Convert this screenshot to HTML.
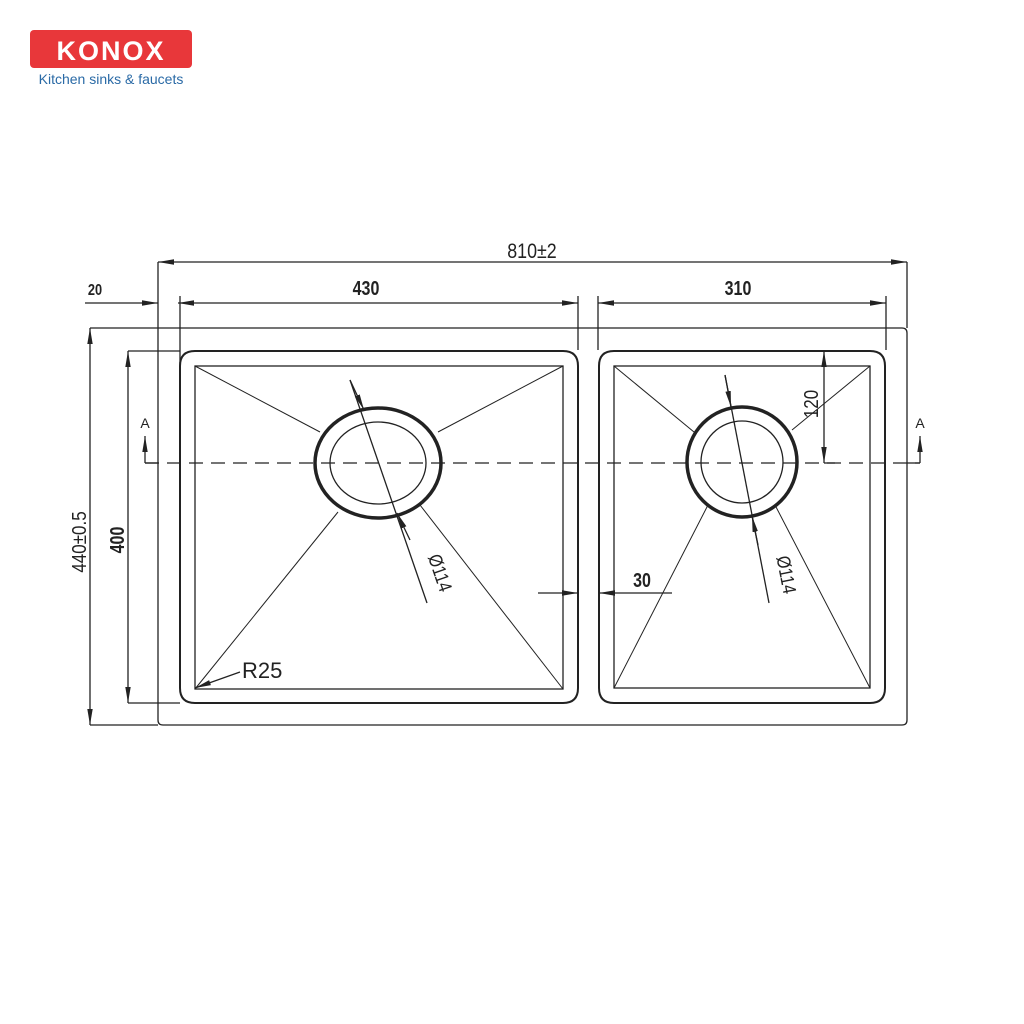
<!DOCTYPE html>
<html><head><meta charset="utf-8"><style>
html,body{margin:0;padding:0;background:#fff;width:1024px;height:1024px;overflow:hidden}
</style></head><body>
<svg width="1024" height="1024" viewBox="0 0 1024 1024" xmlns="http://www.w3.org/2000/svg">
<defs>
<marker id="ar" viewBox="0 0 10 10" refX="10" refY="5" markerWidth="16" markerHeight="6" markerUnits="userSpaceOnUse" preserveAspectRatio="none" orient="auto-start-reverse"><path d="M0,0.5 L10,5 L0,9.5 Z" fill="#222"/></marker>
</defs>
<!-- logo -->
<rect x="30" y="30" width="162" height="38" rx="4" fill="#e8373a"/>
<text x="111" y="60" font-family="Liberation Sans, sans-serif" font-size="27" font-weight="bold" fill="#fff" text-anchor="middle" letter-spacing="2">KONOX</text>
<text x="111" y="84" font-family="Liberation Sans, sans-serif" font-size="14" fill="#2a6aa6" text-anchor="middle">Kitchen sinks &amp; faucets</text>

<g fill="none" stroke="#222" stroke-width="1.3">
<!-- frame -->
<path d="M158 262 V720 Q158 725 163 725 H902 Q907 725 907 720 V333 Q907 328 902 328 H90"/>
<line x1="907" y1="262" x2="907" y2="328"/>
<!-- 810 -->
<line x1="158" y1="262" x2="907" y2="262" marker-start="url(#ar)" marker-end="url(#ar)"/>
<!-- 20 -->
<line x1="85" y1="303" x2="158" y2="303" marker-end="url(#ar)"/>
<line x1="178" y1="303" x2="578" y2="303" marker-start="url(#ar)" marker-end="url(#ar)"/>
<line x1="598" y1="303" x2="886" y2="303" marker-start="url(#ar)" marker-end="url(#ar)"/>
<line x1="180" y1="296" x2="180" y2="365"/>
<line x1="578" y1="296" x2="578" y2="350"/>
<line x1="598" y1="296" x2="598" y2="350"/>
<line x1="886" y1="296" x2="886" y2="350"/>
<!-- vertical dims -->
<line x1="90" y1="328" x2="90" y2="725" marker-start="url(#ar)" marker-end="url(#ar)"/>
<line x1="90" y1="725" x2="158" y2="725"/>
<line x1="128" y1="351" x2="128" y2="703" marker-start="url(#ar)" marker-end="url(#ar)"/>
<line x1="128" y1="351" x2="180" y2="351"/>
<line x1="128" y1="703" x2="180" y2="703"/>
<!-- left basin -->
<path d="M195 351 H563 Q578 351 578 366 V688 Q578 703 563 703 H195 Q180 703 180 688 V366 Q180 351 195 351 Z" stroke-width="2"/>
<rect x="195" y="366" width="368" height="323"/>
<!-- right basin -->
<path d="M614 351 H870 Q885 351 885 366 V688 Q885 703 870 703 H614 Q599 703 599 688 V366 Q599 351 614 351 Z" stroke-width="2"/>
<rect x="614" y="366" width="256" height="322"/>
<!-- diagonals -->
<g stroke-width="1">
<line x1="195" y1="366" x2="320" y2="432"/><line x1="563" y1="366" x2="438" y2="432"/>
<line x1="195" y1="689" x2="338" y2="512"/><line x1="563" y1="689" x2="420" y2="505"/>
<line x1="614" y1="366" x2="694" y2="432"/><line x1="870" y1="366" x2="792" y2="430"/>
<line x1="614" y1="688" x2="708" y2="505"/><line x1="870" y1="688" x2="775" y2="505"/>
</g>
<!-- drains -->
<ellipse cx="378" cy="463" rx="63" ry="55" stroke-width="3.5"/>
<ellipse cx="378" cy="463" rx="48" ry="41"/>
<circle cx="742" cy="462" r="55" stroke-width="3.5"/>
<circle cx="742" cy="462" r="41"/>
<!-- section line -->
<line x1="145" y1="463" x2="920" y2="463" stroke-dasharray="14,8"/>
<path d="M145 463 H158"/><path d="M907 463 H920"/>
<line x1="145" y1="463" x2="145" y2="436" marker-end="url(#ar)"/>
<line x1="920" y1="463" x2="920" y2="436" marker-end="url(#ar)"/>
<!-- phi leaders -->
<line x1="350" y1="380" x2="427" y2="603"/>
<line x1="350" y1="380" x2="364" y2="410" marker-end="url(#ar)"/>
<line x1="410" y1="540" x2="397" y2="513" marker-end="url(#ar)"/>
<line x1="725" y1="375" x2="769" y2="603"/>
<line x1="725" y1="375" x2="731" y2="407" marker-end="url(#ar)"/>
<line x1="758" y1="545" x2="752" y2="516" marker-end="url(#ar)"/>
<!-- 120 -->
<line x1="824" y1="351" x2="824" y2="463" marker-start="url(#ar)" marker-end="url(#ar)"/>
<line x1="824" y1="463" x2="835" y2="463"/>
<!-- 30 -->
<line x1="538" y1="593" x2="578" y2="593" marker-end="url(#ar)"/>
<line x1="672" y1="593" x2="599" y2="593" marker-end="url(#ar)"/>
<!-- R25 -->
<line x1="240" y1="672" x2="195" y2="688" marker-end="url(#ar)"/>
</g>

<g font-family="Liberation Sans, sans-serif" fill="#222">
<text x="532" y="258" font-size="21" text-anchor="middle" transform="translate(532 0) scale(0.85 1) translate(-532 0)">810±2</text>
<text x="366" y="295" font-size="20" font-weight="bold" text-anchor="middle" transform="translate(366 0) scale(0.8 1) translate(-366 0)">430</text>
<text x="738" y="295" font-size="20" font-weight="bold" text-anchor="middle" transform="translate(738 0) scale(0.8 1) translate(-738 0)">310</text>
<text x="95" y="295" font-size="16" font-weight="bold" text-anchor="middle" transform="translate(95 0) scale(0.8 1) translate(-95 0)">20</text>
<text x="642" y="587" font-size="20" font-weight="bold" text-anchor="middle" transform="translate(642 0) scale(0.8 1) translate(-642 0)">30</text>
<text font-size="20" text-anchor="middle" transform="translate(86 542) rotate(-90) scale(0.85 1)">440±0.5</text>
<text font-size="20" font-weight="bold" text-anchor="middle" transform="translate(124 540) rotate(-90) scale(0.8 1)">400</text>
<text font-size="20" text-anchor="middle" transform="translate(818 404) rotate(-90) scale(0.85 1)">120</text>
<text font-size="19" text-anchor="middle" transform="translate(434 575) rotate(71) scale(0.85 1)">Ø114</text>
<text font-size="19" text-anchor="middle" transform="translate(780 576) rotate(79) scale(0.85 1)">Ø114</text>
<text x="242" y="678" font-size="22">R25</text>
<text x="145" y="428" font-size="14" text-anchor="middle">A</text>
<text x="920" y="428" font-size="14" text-anchor="middle">A</text>
</g>
</svg>
</body></html>
